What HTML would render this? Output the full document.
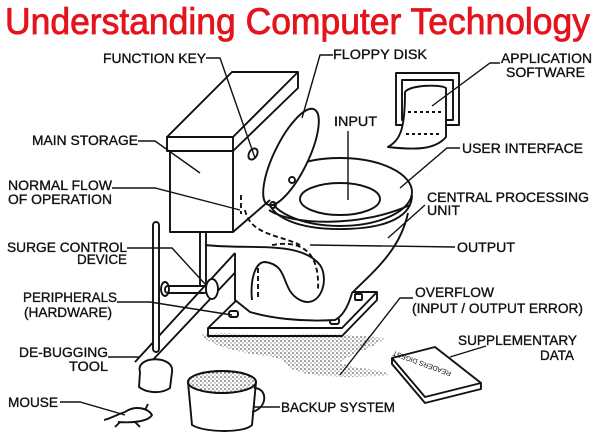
<!DOCTYPE html>
<html><head><meta charset="utf-8"><style>
html,body{margin:0;padding:0;background:#fff}
svg{display:block}
text{font-family:"Liberation Sans",Arial,sans-serif;fill:#111}
.l{font-size:14px}
.l text{stroke:#111;stroke-width:0.35}
</style></head><body>
<svg width="600" height="436" viewBox="0 0 600 436" xmlns="http://www.w3.org/2000/svg">
<defs>
<pattern id="dots" width="4" height="4" patternUnits="userSpaceOnUse"><circle cx="1" cy="1" r="0.8" fill="#333"/><circle cx="3" cy="3" r="0.6" fill="#555"/></pattern>
</defs>
<rect width="600" height="436" fill="#fff"/>
<text x="5" y="34" font-size="37" style="fill:#e3141c;stroke:#e3141c;stroke-width:0.8" textLength="585" lengthAdjust="spacingAndGlyphs">Understanding Computer Technology</text>

<g fill="none" stroke="#111" stroke-width="1.9" stroke-linejoin="round">
<line x1="135" y1="362" x2="235" y2="253"/><line x1="148" y1="365" x2="245" y2="262"/>
<path d="M200,335 C230,330 260,338 300,334 C330,333 360,336 385,338 C370,350 350,355 340,362 C350,370 385,368 388,375 C360,378 320,378 300,372 C280,366 290,358 265,356 C240,352 215,348 200,335Z" fill="url(#dots)" stroke="none"/>
<path d="M208,328 L342,328 L377,292 L245,292 Z" fill="#fff"/>
<path d="M208,328 L208,336 L342,336 L377,300 L377,292" />
<rect x="229" y="311" width="9" height="6" rx="2"/>
<rect x="330" y="318" width="9" height="6" rx="2"/>
<rect x="355" y="294" width="7" height="6" rx="1"/>
<path d="M235,253 L235,300 L250,312 C270,318 300,322 335,320 C345,315 350,300 352,293 C375,270 400,250 408,213" fill="#fff"/>
<path d="M205,245 C250,250 300,240 320,265 C330,280 320,310 300,300 C280,290 290,265 265,262 C255,262 250,280 252,300" />
<path d="M272,245 C300,240 320,250 318,290" stroke-dasharray="5,3"/>
<path d="M258,268 L258,300" stroke-dasharray="5,3"/>
<path d="M245,210 C250,235 280,235 300,245" stroke-dasharray="5,3"/>
<path d="M267,195 C268,218 300,230 345,229 C390,228 412,215 412,195" />
<ellipse cx="340" cy="192" rx="72" ry="34" fill="#fff"/>
<ellipse cx="340" cy="199" rx="40" ry="16" fill="#fff"/>
<path d="M269,210 C290,225 360,228 410,205"/>
<ellipse cx="291" cy="157" rx="17" ry="53" transform="rotate(26 291 157)" fill="#fff"/>
<circle cx="273" cy="205" r="3"/><circle cx="292" cy="180" r="3"/>
<path d="M167,137 L233,137 L298,72 L232,72 Z" fill="#fff"/>
<rect x="167" y="137" width="66" height="14" fill="#fff"/>
<path d="M233,151 L298,88 L298,72"/>
<rect x="170" y="151" width="63" height="81" fill="#fff"/>
<path d="M233,232 L270,200"/>
<path d="M241,195 L241,214" stroke-dasharray="5,3"/>
<ellipse cx="253" cy="154" rx="4" ry="6" transform="rotate(30 253 154)"/>
<line x1="200" y1="232" x2="200" y2="285"/><line x1="206" y1="232" x2="206" y2="285"/>
<rect x="165" y="286" width="42" height="7" rx="3"/>
<ellipse cx="165" cy="289" rx="4" ry="7"/>
<ellipse cx="212" cy="289" rx="6" ry="10" fill="#fff"/>
<rect x="153" y="222" width="6" height="130" rx="3" fill="#fff"/>
<path d="M140,372 C135,355 175,355 172,372 L170,388 C160,395 145,392 139,387 Z" fill="#fff"/>
<path d="M188,382 L192,425 C205,433 245,433 252,425 L256,382" fill="#fff"/>
<ellipse cx="222" cy="382" rx="34" ry="11" fill="url(#dots)"/>
<ellipse cx="222" cy="382" rx="34" ry="11"/>
<path d="M254,388 C268,388 268,408 252,412"/>
<path d="M392,358 L435,347 L481,383 L425,397 Z" fill="#fff"/>
<path d="M392,358 L392,364 L425,403 L481,389 L481,383"/>
<text x="430" y="382" font-size="7" transform="rotate(200 440 375)" stroke="none">READERS DIGEST</text>
<rect x="396" y="73" width="63" height="52" fill="#fff"/>
<rect x="402" y="80" width="51" height="40"/>
<path d="M405,92 C410,85 440,84 446,88 L446,137 C435,150 415,150 388,147 C400,140 405,130 405,92Z" fill="#fff"/>
<line x1="408" y1="112" x2="444" y2="112" stroke-dasharray="3,3"/>
<line x1="406" y1="134" x2="440" y2="134" stroke-dasharray="3,3"/>
<path d="M104,420 C112,418 118,414 125,412 C135,405 148,408 152,415 C148,422 130,423 118,422 M120,422 L115,427 M135,422 L140,427 M145,410 L148,404"/>
</g>

<g fill="none" stroke="#111" stroke-width="1.4">
<polyline points="206,58 220,58 255,158"/>
<polyline points="333,55 320,55 302,118"/>
<polyline points="500,63 490,63 432,106"/>
<polyline points="138,141 155,141 200,173"/>
<line x1="348" y1="131" x2="348" y2="200"/>
<polyline points="460,148 447,148 400,188"/>
<polyline points="112,188 155,188 240,210"/>
<line x1="425" y1="205" x2="388" y2="238"/>
<polyline points="127,248 172,248 205,284"/>
<line x1="455" y1="247" x2="310" y2="245"/>
<polyline points="117,302 150,302 232,315"/>
<polyline points="413,298 400,298 340,375"/>
<line x1="486" y1="346" x2="450" y2="357"/>
<line x1="108" y1="357" x2="140" y2="357"/>
<polyline points="60,402 80,402 125,415"/>
<line x1="280" y1="407" x2="254" y2="407"/>
</g>

<g class="l">
<text x="103" y="63" textLength="103" lengthAdjust="spacingAndGlyphs">FUNCTION KEY</text>
<text x="333" y="59" textLength="94" lengthAdjust="spacingAndGlyphs">FLOPPY DISK</text>
<text x="501" y="63" textLength="91" lengthAdjust="spacingAndGlyphs">APPLICATION</text>
<text x="506" y="77" textLength="79" lengthAdjust="spacingAndGlyphs">SOFTWARE</text>
<text x="334" y="126" textLength="43" lengthAdjust="spacingAndGlyphs">INPUT</text>
<text x="32" y="145" textLength="106" lengthAdjust="spacingAndGlyphs">MAIN STORAGE</text>
<text x="462" y="153" textLength="121" lengthAdjust="spacingAndGlyphs">USER INTERFACE</text>
<text x="8" y="190" textLength="104" lengthAdjust="spacingAndGlyphs">NORMAL FLOW</text>
<text x="8" y="204" textLength="104" lengthAdjust="spacingAndGlyphs">OF OPERATION</text>
<text x="427" y="202" textLength="162" lengthAdjust="spacingAndGlyphs">CENTRAL PROCESSING</text>
<text x="427" y="215" textLength="33" lengthAdjust="spacingAndGlyphs">UNIT</text>
<text x="7" y="252" textLength="120" lengthAdjust="spacingAndGlyphs">SURGE CONTROL</text>
<text x="77" y="264" textLength="50" lengthAdjust="spacingAndGlyphs">DEVICE</text>
<text x="457" y="252" textLength="58" lengthAdjust="spacingAndGlyphs">OUTPUT</text>
<text x="23" y="302" textLength="94" lengthAdjust="spacingAndGlyphs">PERIPHERALS</text>
<text x="24" y="317" textLength="88" lengthAdjust="spacingAndGlyphs">(HARDWARE)</text>
<text x="415" y="297" textLength="79" lengthAdjust="spacingAndGlyphs">OVERFLOW</text>
<text x="412" y="313" textLength="171" lengthAdjust="spacingAndGlyphs">(INPUT / OUTPUT ERROR)</text>
<text x="458" y="345" textLength="119" lengthAdjust="spacingAndGlyphs">SUPPLEMENTARY</text>
<text x="540" y="360" textLength="34" lengthAdjust="spacingAndGlyphs">DATA</text>
<text x="19" y="357" textLength="89" lengthAdjust="spacingAndGlyphs">DE-BUGGING</text>
<text x="69" y="371" textLength="39" lengthAdjust="spacingAndGlyphs">TOOL</text>
<text x="8" y="407" textLength="50" lengthAdjust="spacingAndGlyphs">MOUSE</text>
<text x="281" y="412" textLength="114" lengthAdjust="spacingAndGlyphs">BACKUP SYSTEM</text>
</g>
</svg>
</body></html>
